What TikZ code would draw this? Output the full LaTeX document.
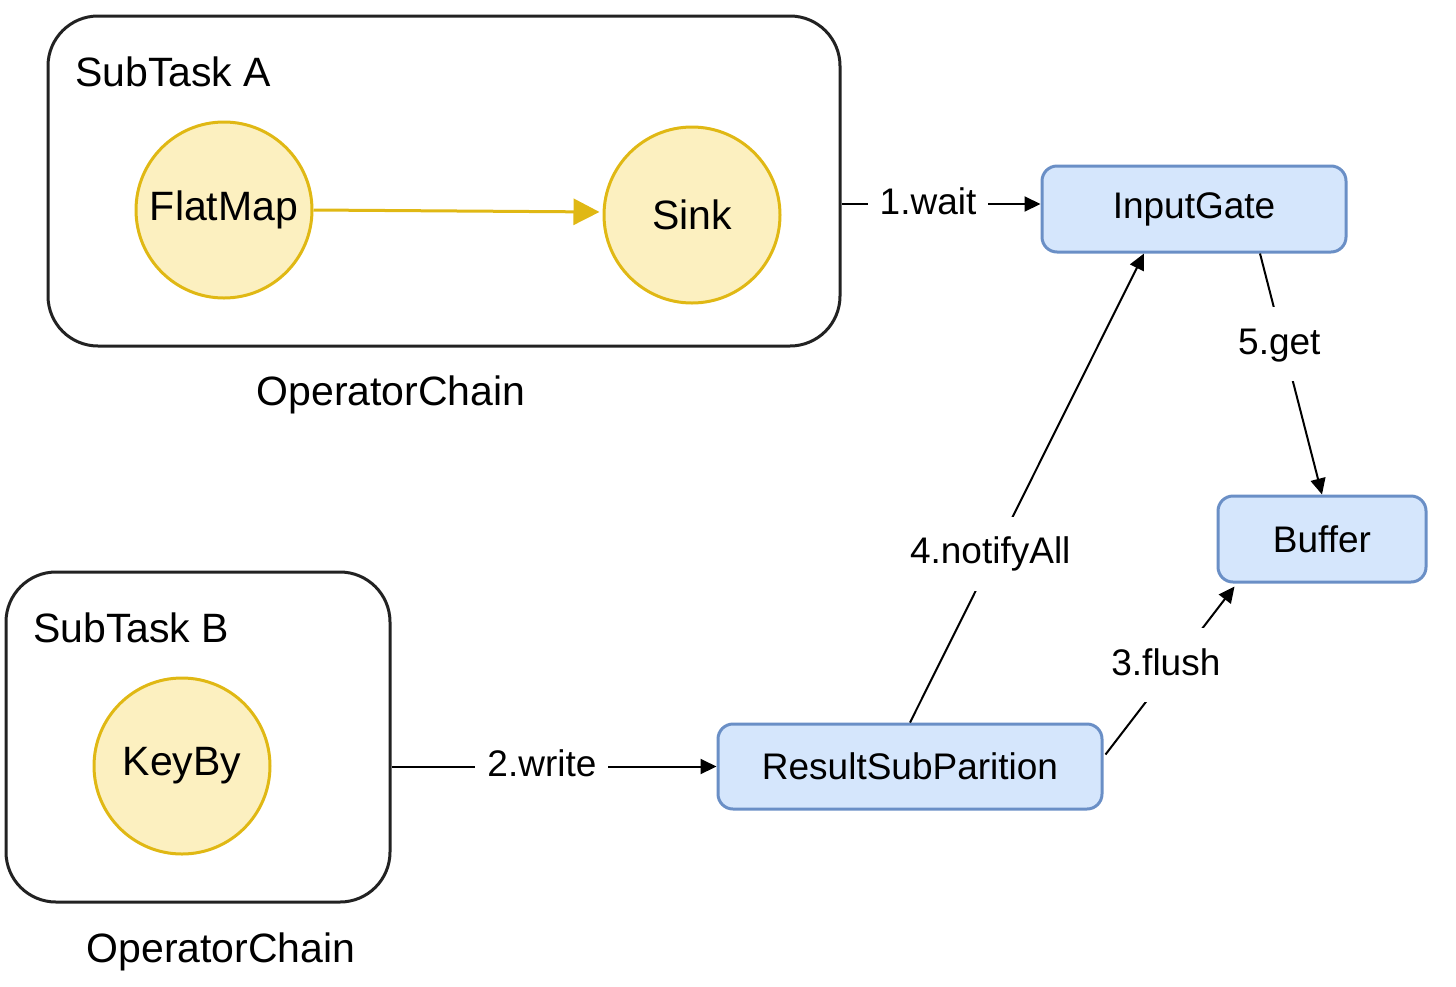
\documentclass[tikz,border=0pt]{standalone}
\usepackage{fontspec}
\setmainfont{Liberation Sans}
\usetikzlibrary{arrows.meta,calc}
\definecolor{ylwfill}{HTML}{FCF0C0}
\definecolor{ylwline}{HTML}{E0B814}
\definecolor{bluefill}{HTML}{D5E6FC}
\definecolor{blueline}{HTML}{6A8FC6}
\definecolor{boxline}{HTML}{222222}
\begin{document}
\begin{tikzpicture}[x=1pt,y=-1pt,
  task/.style={draw=boxline, line width=3pt, rounded corners=50pt, inner sep=0pt},
  op/.style={circle, draw=ylwline, fill=ylwfill, line width=3pt, minimum size=176pt, inner sep=0pt, font=\fontsize{41}{49}\selectfont},
  blk/.style={rectangle, rounded corners=15pt, draw=blueline, fill=bluefill, line width=3pt, inner sep=0pt, font=\fontsize{37}{44}\selectfont},
  title/.style={inner sep=0pt, font=\fontsize{41}{49}\selectfont},
  lbl/.style={fill=white, font=\fontsize{37}{44}\selectfont, inner xsep=12pt, inner ysep=19pt, text height=28pt, text depth=8pt},
  conn/.style={line width=2pt, -{Triangle[length=16pt,width=15pt]}},
  yconn/.style={draw=ylwline, line width=3pt, -{Triangle[length=26pt,width=26pt]}, shorten >=3pt}
]
\useasboundingbox (0,0) rectangle (1456,986);

% SubTask A
\node[task, minimum width=792pt, minimum height=330pt] (ta) at (444,181) {};
\node[title, anchor=west] (tatitle) at (75,72) {SubTask A};
\node[title] (tachain) at (391,395) {OperatorChain};
\node[op] (fm) at (224,210) {FlatMap};
\node[op] (sink) at (692,215) {Sink};
\coordinate (sk) at ($(sink.west)+(0,-3)$);
\draw[yconn] (fm.east) -- (sk);

% SubTask B
\node[task, minimum width=384pt, minimum height=330pt] (tb) at (198,737) {};
\node[title, anchor=west] (tbtitle) at (33,628) {SubTask B};
\node[title] (tbchain) at (221,952) {OperatorChain};
\node[op] (kb) at (182,766) {KeyBy};

% blocks
\node[blk, minimum width=304pt, minimum height=86pt] (ig) at (1194,209) {InputGate};
\node[blk, minimum width=208pt, minimum height=86pt] (buf) at (1322,539) {Buffer};
\node[blk, minimum width=384pt, minimum height=85pt] (rsp) at (910,766.5) {ResultSubParition};

% connectors
\coordinate (w1) at ($(ig.west)+(0,-5)$);
\draw[conn] (ta.east |- w1) -- (w1) node[lbl, pos=0.435] (l1) {1.wait};

\draw[conn] (tb.east |- rsp.west) -- (rsp.west) node[lbl, pos=0.463] (l2) {2.write};

\coordinate (f1) at ($(rsp.north east)+(2,32)$);
\coordinate (f2) at ($(buf.south west)+(18,3)$);
\draw[conn] (f1) -- (f2) node[lbl, pos=0.53, xshift=-8pt] (l3) {3.flush};

\coordinate (n2) at ($(ig.south)+(-50,0)$);
\draw[conn] (rsp.north) -- (n2) node[lbl, pos=0.36, xshift=-4pt] (l4) {4.notifyAll};

\coordinate (g1) at ($(ig.south)+(66,0)$);
\draw[conn] (g1) -- (buf.north) node[lbl, pos=0.377, xshift=-4pt] (l5) {5.get};
\end{tikzpicture}
\end{document}
